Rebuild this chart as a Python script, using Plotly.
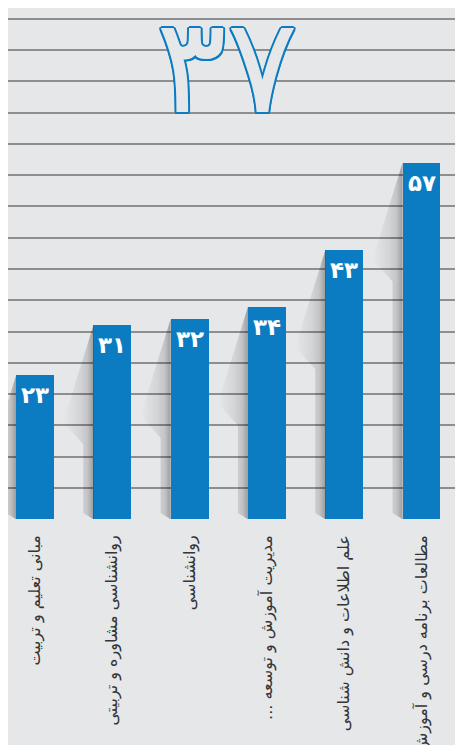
import plotly.graph_objects as go

categories = [
    "مبانی تعلیم و تربیت",
    "روانشناسی مشاوره و تربیتی",
    "روانشناسی",
    "مدیریت آموزش و توسعه ...\u200f",
    "علم اطلاعات و دانش شناسی",
    "مطالعات برنامه درسی و آموزش",
]
values = [23, 31, 32, 34, 43, 57]
total_label = "۳۷"

BLUE = "#0b7cc2"
BG = "#e6e7e9"
fa_digits = str.maketrans("0123456789", "۰۱۲۳۴۵۶۷۸۹")

x = list(range(len(values)))
bar_w = 0.49

fig = go.Figure()

# soft shadows to the left of every bar
for xi, v in zip(x, values):
    left = xi - bar_w / 2
    fig.add_trace(go.Scatter(
        x=[left, left - 0.39, left - 0.13, left - 0.13, left, left],
        y=[v, v - 15.5, v - 19, 1, 0, v],
        mode="lines", line=dict(width=0), fill="toself",
        fillgradient=dict(type="horizontal", colorscale=[
            [0, "rgba(0,0,0,0)"], [0.55, "rgba(0,0,0,0.08)"],
            [0.8, "rgba(0,0,0,0.15)"], [1, "rgba(0,0,0,0.32)"]]),
        hoverinfo="skip", showlegend=False,
    ))

fig.add_trace(go.Bar(
    x=x, y=values, width=bar_w, marker=dict(color=BLUE, line=dict(width=0)),
    hoverinfo="skip", showlegend=False,
))

for xi, v in zip(x, values):
    fig.add_annotation(
        x=xi, y=v, text="<b>" + str(v).translate(fa_digits) + "</b>",
        showarrow=False, yanchor="top", yshift=-5,
        font=dict(family="DejaVu Sans", size=23, color="white"),
    )

outline = ", ".join(f"{dx}px {dy}px 0 {BLUE}" for dx, dy in [
    (2, 0), (-2, 0), (0, 2), (0, -2), (1.5, 1.5), (-1.5, -1.5), (1.5, -1.5), (-1.5, 1.5)])
fig.add_annotation(
    x=0.472, y=0.887, xref="paper", yref="paper", text=total_label,
    showarrow=False, yanchor="middle", xanchor="center",
    font=dict(family="DejaVu Sans", size=132, color=BG, shadow=outline),
)

fig.update_layout(
    width=463, height=745,
    margin=dict(l=0, r=0, t=0, b=233),
    paper_bgcolor=BG, plot_bgcolor=BG,
    bargap=0,
)
fig.update_xaxes(
    range=[-0.349, 5.640], tickvals=x, ticktext=categories,
    tickangle=-90, ticks="", ticklabelstandoff=11, automargin=False,
    tickfont=dict(family="DejaVu Sans", size=16, color="#353535"),
    showgrid=False, zeroline=False, showline=False,
)
fig.update_yaxes(
    range=[-0.1, 81.7], dtick=5, tick0=0, showticklabels=False,
    showgrid=True, gridcolor="#8e8e8e", gridwidth=1.5, zeroline=False,
)

fig.write_html("out.html")
